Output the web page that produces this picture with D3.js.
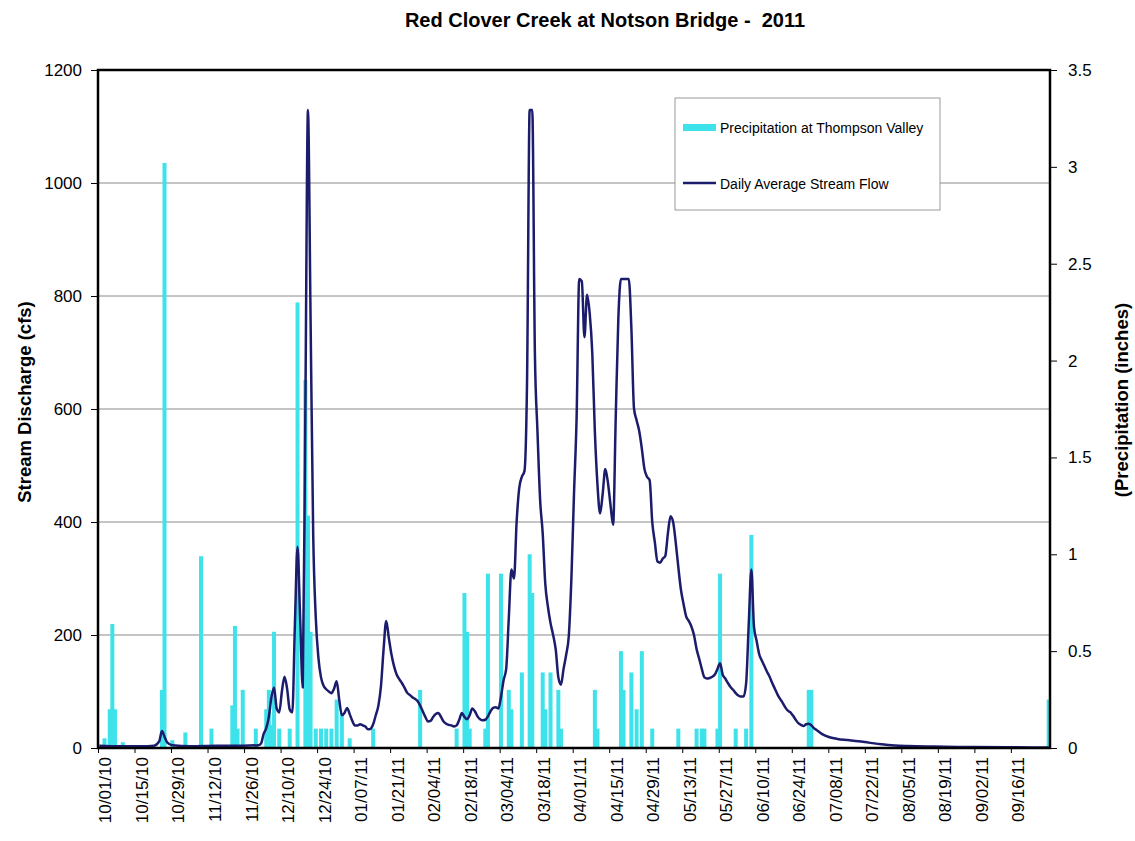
<!DOCTYPE html>
<html>
<head>
<meta charset="utf-8">
<script src="https://cdn.jsdelivr.net/npm/d3@7"></script>
<style>
  body { margin: 0; background: #fff; }
  svg { display: block; }
  text { font-family: Arial, "Liberation Sans", sans-serif; fill: #000; }
</style>
</head>
<body>
<svg id="chart" width="1135" height="841"></svg>
<script>
// ---------------- DATA ----------------
const chartTitle = "Red Clover Creek at Notson Bridge -  2011";
const leftAxisTitle = "Stream Discharge (cfs)";
const rightAxisTitle = "(Precipitation (inches)";
const seriesNames = ["Precipitation at Thompson Valley", "Daily Average Stream Flow"];
const waterYearStart = "10/01/10";
const waterYearEnd = "10/01/11";

const flowTicks = [0, 200, 400, 600, 800, 1000, 1200];
const precipTicks = [0, 0.5, 1, 1.5, 2, 2.5, 3, 3.5];
const xTickLabels = ["10/01/10","10/15/10","10/29/10","11/12/10","11/26/10","12/10/10","12/24/10",
  "01/07/11","01/21/11","02/04/11","02/18/11","03/04/11","03/18/11","04/01/11","04/15/11","04/29/11",
  "05/13/11","05/27/11","06/10/11","06/24/11","07/08/11","07/22/11","08/05/11","08/19/11","09/02/11","09/16/11"];

// Daily average stream flow (cfs); day = days since 10/01/10
const flowDay = [0,8,16,21,23,24,25,26,28,35,45,55,61,62,63,64,65,66,67,68,69,70,71,72,73,74,75,76,77,78,79,80,
  81,82,83,84,85,86,87,88,89,90,91,92,93,94,95,96,97,98,99,100,101,102,103,104,105,106,107,108,109,110,
  111,112,113,114,115,116,117,118,119,120,121,122,123,124,125,126,127,128,129,130,131,132,133,134,135,136,
  137,138,139,140,141,142,143,144,145,146,147,148,149,150,151,152,153,154,155,156,157,158,159,160,161,162,
  163,164,165,166,167,168,169,170,171,172,173,174,175,176,177,178,179,180,181,182,183,184,185,186,187,188,
  189,190,191,192,193,194,195,196,197,198,199,200,201,202,203,204,205,206,207,208,209,210,211,212,213,214,
  215,216,217,218,219,220,221,222,223,224,225,226,227,228,229,230,231,232,233,234,235,236,237,238,239,240,
  241,242,243,244,245,246,247,248,249,250,251,252,253,254,255,256,257,258,259,260,261,262,263,264,265,266,
  267,268,269,270,271,272,273,274,275,277,280,283,287,291,295,300,305,310,320,335,350,364];
const flowCfs = [4,3,3,4,12,30,20,10,5,3,4,4,5,8,25,35,55,90,107,70,63,100,126,105,68,63,220,356,230,107,600,1129,
  760,380,230,160,125,110,104,100,97,105,118,85,58,62,71,60,48,40,40,42,40,38,33,34,42,58,75,110,175,225,
  195,166,145,130,122,115,107,98,94,90,87,83,75,65,55,47,48,55,60,62,55,47,43,41,40,38,
  40,50,62,55,51,58,70,65,56,51,49,50,56,65,71,72,70,90,120,140,230,316,300,400,460,480,
  490,650,1129,1129,700,560,440,380,290,250,221,200,174,125,112,140,165,198,300,450,585,830,826,727,802,770,
  700,560,466,415,450,494,470,430,395,585,760,830,830,830,830,743,601,580,561,530,494,480,474,400,364,330,
  328,335,340,380,410,400,364,320,280,255,233,225,215,200,175,158,140,125,123,124,126,130,140,150,130,123,
  115,108,103,97,93,91,91,115,220,316,215,190,166,155,145,135,126,115,105,95,87,80,72,66,63,57,
  50,44,41,39,42,43,40,35,32,25,19,16,14,12,9.5,6.5,4.5,3.5,2.5,1.6,1.2,1];

// Daily precipitation (inches); day = days since 10/01/10
const precipDay = [2,4,5,6,9,24,25,28,33,39,43,51,52,53,55,60,64,65,66,67,69,73,76,79,80,81,83,85,87,89,91,93,96,
  105,123,137,140,141,142,148,149,154,157,158,162,165,166,170,171,173,176,177,
  190,191,200,201,204,206,208,212,222,229,231,232,237,238,244,248,250,272,273,364];
const precipIn = [0.05,0.2,0.64,0.2,0.03,0.3,3.02,0.04,0.08,0.99,0.1,0.22,0.63,0.1,0.3,0.1,0.2,0.3,0.12,0.6,0.1,0.1,2.3,1.9,1.2,0.6,0.1,0.1,0.1,0.1,0.25,0.18,0.05,
  0.1,0.3,0.1,0.8,0.6,0.1,0.1,0.9,0.9,0.3,0.2,0.39,1.0,0.8,0.39,0.2,0.39,0.3,0.1,
  0.3,0.1,0.5,0.3,0.39,0.2,0.5,0.1,0.1,0.1,0.1,0.1,0.1,0.9,0.1,0.1,1.1,0.3,0.3,0.25];

// ---------------- CHART ----------------
const parse = d3.timeParse("%m/%d/%y");
const t0 = parse(waterYearStart), t1 = parse(waterYearEnd);
const dayDate = d => d3.timeHour.offset(d3.timeDay.offset(t0, d), 12); // centre of the day

const svg = d3.select("#chart");
const L = 98, R = 1050, T = 70, B = 748;
const x = d3.scaleTime().domain([t0, t1]).range([L, R]);
const y = d3.scaleLinear().domain([0, 1200]).range([B, T]);
const y2 = d3.scaleLinear().domain([0, 3.5]).range([B, T]);

const NAVY = "#1c1c6c", CYAN = "#3ee2ea";

// gridlines
svg.append("g")
  .selectAll("line").data(flowTicks.filter(v => v > 0 && v < 1200)).join("line")
  .attr("x1", L).attr("x2", R).attr("y1", d => y(d)).attr("y2", d => y(d))
  .attr("stroke", "#8a8a8a").attr("stroke-width", 1);

// precipitation bars
const precip = precipDay.map((d, i) => ({ date: dayDate(precipDay[i]), v: precipIn[i] }));
svg.append("g").selectAll("rect").data(precip).join("rect")
  .attr("x", d => x(d.date) - 2).attr("width", 4)
  .attr("y", d => y2(d.v)).attr("height", d => B - y2(d.v))
  .attr("fill", CYAN);

// stream flow line
const flow = flowDay.map((d, i) => ({ date: dayDate(flowDay[i]), v: flowCfs[i] }));
svg.append("path").datum(flow)
  .attr("fill", "none").attr("stroke", NAVY).attr("stroke-width", 2.5)
  .attr("stroke-linejoin", "round")
  .attr("d", d3.line().x(d => x(d.date)).y(d => y(d.v)).curve(d3.curveMonotoneX));

// left axis
const gl = svg.append("g").attr("transform", `translate(${L},0)`)
  .call(d3.axisLeft(y).tickValues(flowTicks).tickSize(7).tickPadding(9).tickFormat(d3.format("d")));
gl.select(".domain").remove();
gl.selectAll("text").style("font-size", "17px").style("font-family", "Arial, 'Liberation Sans', sans-serif");

// right axis
const gr = svg.append("g").attr("transform", `translate(${R},0)`)
  .call(d3.axisRight(y2).tickValues(precipTicks).tickSize(7).tickPadding(11).tickFormat(d => String(d)));
gr.select(".domain").remove();
gr.selectAll("text").style("font-size", "17px").style("font-family", "Arial, 'Liberation Sans', sans-serif");

// bottom axis
const tickDates = xTickLabels.map(parse);
const gb = svg.append("g").attr("transform", `translate(0,${B})`)
  .call(d3.axisBottom(x).tickValues(tickDates).tickSize(5).tickFormat((d, i) => xTickLabels[i]));
gb.select(".domain").remove();
gb.selectAll("text")
  .attr("transform", "rotate(-90)")
  .attr("x", -9).attr("y", 7).attr("dy", "0.35em")
  .style("text-anchor", "end")
  .style("font-size", "17px").style("font-family", "Arial, 'Liberation Sans', sans-serif");

// plot frame
svg.append("rect").attr("x", L).attr("y", T).attr("width", R - L).attr("height", B - T)
  .attr("fill", "none").attr("stroke", "#000").attr("stroke-width", 2.5);

// titles
svg.append("text").attr("x", 605).attr("y", 27).attr("text-anchor", "middle")
  .style("font-size", "20px").style("font-weight", "bold").style("white-space", "pre")
  .text(chartTitle);
svg.append("text").attr("transform", "translate(24,402) rotate(-90)")
  .attr("text-anchor", "middle").attr("dominant-baseline", "central")
  .style("font-size", "18.5px").style("font-weight", "bold").text(leftAxisTitle);
svg.append("text").attr("transform", "translate(1121,400) rotate(-90)")
  .attr("text-anchor", "middle").attr("dominant-baseline", "central")
  .style("font-size", "18.5px").style("font-weight", "bold").text(rightAxisTitle);

// legend
const lg = svg.append("g");
lg.append("rect").attr("x", 675).attr("y", 98).attr("width", 265).attr("height", 112)
  .attr("fill", "#fff").attr("stroke", "#9a9a9a").attr("stroke-width", 1);
lg.append("rect").attr("x", 683).attr("y", 124).attr("width", 33).attr("height", 7).attr("fill", CYAN);
lg.append("text").attr("x", 720).attr("y", 128).attr("dominant-baseline", "central")
  .style("font-size", "14px").text(seriesNames[0]);
lg.append("line").attr("x1", 683).attr("x2", 716).attr("y1", 183).attr("y2", 183)
  .attr("stroke", NAVY).attr("stroke-width", 2.5);
lg.append("text").attr("x", 720).attr("y", 184).attr("dominant-baseline", "central")
  .style("font-size", "14px").text(seriesNames[1]);
</script>
</body>
</html>
